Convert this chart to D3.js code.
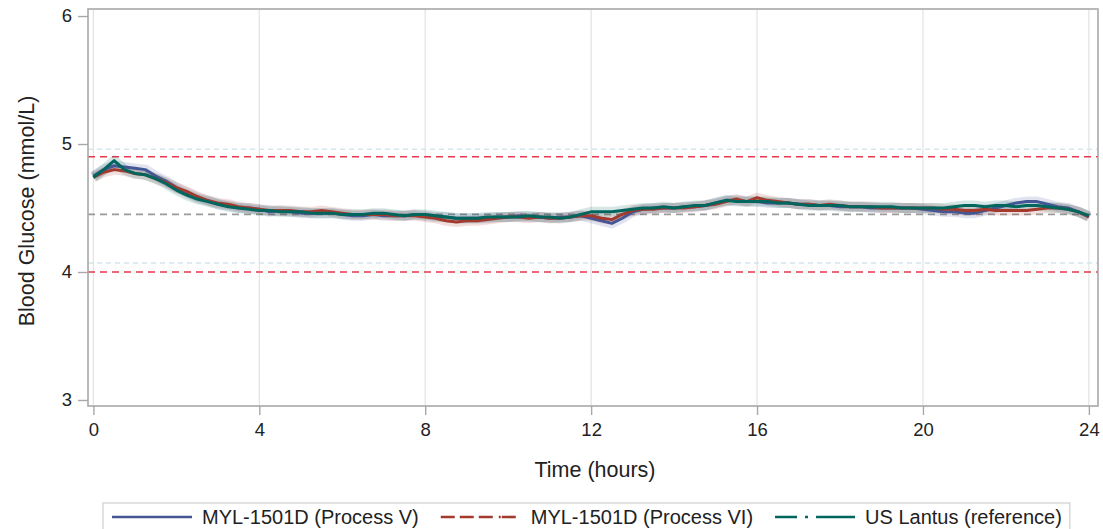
<!DOCTYPE html>
<html>
<head>
<meta charset="utf-8">
<script src="https://cdn.jsdelivr.net/npm/d3@7"></script>
<style>
  body { margin: 0; background: #fff; }
  svg { font-family: "Liberation Sans", Arial, sans-serif; }
</style>
</head>
<body>
<svg width="1103" height="529"></svg>
<script>
// sample times, every 15 minutes from 0 to 24 h
const TIMES = d3.range(0, 24.001, 0.25);

// mean glucose per arm (mmol/L)
const PROCESS_V = [
  4.75, 4.80, 4.83, 4.82, 4.81, 4.80, 4.75, 4.71,
  4.66, 4.62, 4.58, 4.56, 4.53, 4.52, 4.50, 4.50,
  4.49, 4.47, 4.48, 4.47, 4.46, 4.46, 4.46, 4.46,
  4.45, 4.44, 4.44, 4.45, 4.44, 4.44, 4.44, 4.45,
  4.44, 4.43, 4.43, 4.42, 4.42, 4.42, 4.42, 4.43,
  4.43, 4.44, 4.43, 4.43, 4.42, 4.43, 4.43, 4.44,
  4.42, 4.40, 4.38, 4.42, 4.47, 4.49, 4.50, 4.50,
  4.50, 4.51, 4.51, 4.52, 4.54, 4.56, 4.56, 4.55,
  4.55, 4.54, 4.54, 4.54, 4.53, 4.53, 4.52, 4.52,
  4.51, 4.51, 4.51, 4.50, 4.50, 4.50, 4.50, 4.50,
  4.49, 4.48, 4.47, 4.47, 4.46, 4.46, 4.48, 4.50,
  4.52, 4.54, 4.55, 4.55, 4.53, 4.51, 4.50, 4.47,
  4.43
];
const PROCESS_VI = [
  4.74, 4.78, 4.80, 4.79, 4.77, 4.76, 4.73, 4.70,
  4.66, 4.63, 4.59, 4.56, 4.54, 4.53, 4.51, 4.50,
  4.49, 4.48, 4.48, 4.48, 4.47, 4.47, 4.48, 4.47,
  4.46, 4.45, 4.45, 4.45, 4.45, 4.44, 4.44, 4.44,
  4.43, 4.42, 4.40, 4.39, 4.40, 4.40, 4.41, 4.42,
  4.43, 4.43, 4.42, 4.43, 4.42, 4.42, 4.43, 4.44,
  4.44, 4.42, 4.41, 4.45, 4.48, 4.49, 4.49, 4.50,
  4.50, 4.50, 4.51, 4.52, 4.53, 4.55, 4.57, 4.55,
  4.58, 4.56, 4.55, 4.54, 4.53, 4.53, 4.52, 4.53,
  4.52, 4.51, 4.51, 4.51, 4.50, 4.50, 4.50, 4.50,
  4.50, 4.50, 4.49, 4.49, 4.48, 4.48, 4.49, 4.48,
  4.48, 4.48, 4.48, 4.49, 4.50, 4.50, 4.49, 4.47,
  4.43
];
const US_LANTUS = [
  4.74, 4.80, 4.87, 4.80, 4.77, 4.76, 4.73, 4.69,
  4.64, 4.60, 4.57, 4.55, 4.53, 4.51, 4.50, 4.49,
  4.48, 4.48, 4.47, 4.47, 4.47, 4.46, 4.46, 4.46,
  4.45, 4.45, 4.45, 4.46, 4.46, 4.45, 4.44, 4.45,
  4.45, 4.44, 4.43, 4.42, 4.42, 4.42, 4.43, 4.43,
  4.43, 4.43, 4.44, 4.43, 4.43, 4.42, 4.43, 4.45,
  4.47, 4.47, 4.47, 4.48, 4.49, 4.50, 4.50, 4.51,
  4.50, 4.51, 4.52, 4.52, 4.54, 4.56, 4.55, 4.55,
  4.55, 4.55, 4.54, 4.54, 4.53, 4.52, 4.52, 4.52,
  4.52, 4.51, 4.51, 4.51, 4.51, 4.51, 4.50, 4.50,
  4.50, 4.50, 4.50, 4.51, 4.52, 4.52, 4.51, 4.52,
  4.52, 4.51, 4.52, 4.52, 4.51, 4.50, 4.49, 4.47,
  4.44
];

const SERIES_NAMES = ['MYL-1501D (Process V)', 'MYL-1501D (Process VI)', 'US Lantus (reference)'];
const SERIES_COLORS = ['#445694', '#a23a2e', '#01665e'];
const SERIES_DASH = [null, '14,5,14,5,14,6,2,1', '22,8,3,8,22,0'];

const X_TICKS = [0, 4, 8, 12, 16, 20, 24];
const Y_TICKS = [3, 4, 5, 6];
const CLAMP_LINES = [4.0, 4.9];     // red dashed limits
const TARGET_LINE = 4.45;           // grey dashed target
const FAINT_LINES = [4.07, 4.96];   // faint dotted bounds

const svg = d3.select('svg');
const frame = { left: 88, right: 1098, top: 9, bottom: 406 };

const x = d3.scaleLinear()
    .domain([-0.13, 24.22])
    .range([frame.left, frame.right]);

const y = d3.scaleLinear()
    .domain([2.953, 6.055])
    .range([frame.bottom, frame.top]);

// vertical grid
svg.append('g')
  .selectAll('line')
  .data(X_TICKS)
  .enter().append('line')
    .attr('x1', d => x(d)).attr('x2', d => x(d))
    .attr('y1', frame.top).attr('y2', frame.bottom)
    .attr('stroke', '#e3e3e3')
    .attr('stroke-width', 1.2);

// reference lines
svg.append('g')
  .selectAll('line')
  .data(FAINT_LINES)
  .enter().append('line')
    .attr('x1', frame.left).attr('x2', frame.right)
    .attr('y1', d => y(d)).attr('y2', d => y(d))
    .attr('stroke', '#d3e6ee')
    .attr('stroke-width', 1.5)
    .attr('stroke-dasharray', '5,4');

svg.append('g')
  .selectAll('line')
  .data(CLAMP_LINES)
  .enter().append('line')
    .attr('x1', frame.left).attr('x2', frame.right)
    .attr('y1', d => y(d)).attr('y2', d => y(d))
    .attr('stroke', '#e8374a')
    .attr('stroke-width', 1.6)
    .attr('stroke-dasharray', '7,5');

svg.append('line')
    .attr('x1', frame.left).attr('x2', frame.right)
    .attr('y1', y(TARGET_LINE)).attr('y2', y(TARGET_LINE))
    .attr('stroke', '#999')
    .attr('stroke-width', 1.6)
    .attr('stroke-dasharray', '7,5');

// traces
const series = [PROCESS_V, PROCESS_VI, US_LANTUS].map((vals, i) => ({
  name: SERIES_NAMES[i],
  color: SERIES_COLORS[i],
  dash: SERIES_DASH[i],
  points: vals.map((v, j) => [TIMES[j], v])
}));

const line = d3.line()
    .x(d => x(d[0]))
    .y(d => y(d[1]));

const traces = svg.append('g');

// pale confidence band, drawn as a wide translucent stroke
traces.selectAll('path.band')
  .data(series)
  .enter().append('path')
    .attr('class', 'band')
    .attr('d', d => line(d.points))
    .attr('fill', 'none')
    .attr('stroke', d => d.color)
    .attr('stroke-opacity', 0.16)
    .attr('stroke-width', 10)
    .attr('stroke-linejoin', 'round');

traces.selectAll('path.trace')
  .data(series)
  .enter().append('path')
    .attr('class', 'trace')
    .attr('d', d => line(d.points))
    .attr('fill', 'none')
    .attr('stroke', d => d.color)
    .attr('stroke-width', 3)
    .attr('stroke-linejoin', 'round');

// frame
svg.append('rect')
    .attr('x', frame.left).attr('y', frame.top)
    .attr('width', frame.right - frame.left)
    .attr('height', frame.bottom - frame.top)
    .attr('fill', 'none')
    .attr('stroke', '#a8a8a8')
    .attr('stroke-width', 1.6);

// x axis
const xAxis = svg.append('g')
    .attr('transform', `translate(0,${frame.bottom})`)
    .call(d3.axisBottom(x).tickValues(X_TICKS).tickFormat(d3.format('d')).tickSize(9).tickPadding(8));
xAxis.select('.domain').remove();
xAxis.selectAll('line').attr('stroke', '#a8a8a8').attr('stroke-width', 1.4);
xAxis.selectAll('text')
    .attr('font-family', '"Liberation Sans", Arial, sans-serif')
    .attr('font-size', 18.5)
    .attr('fill', '#222');

// y axis
const yAxis = svg.append('g')
    .attr('transform', `translate(${frame.left},0)`)
    .call(d3.axisLeft(y).tickValues(Y_TICKS).tickFormat(d3.format('d')).tickSize(10).tickPadding(6));
yAxis.select('.domain').remove();
yAxis.selectAll('line').attr('stroke', '#a8a8a8').attr('stroke-width', 1.4);
yAxis.selectAll('text')
    .attr('font-family', '"Liberation Sans", Arial, sans-serif')
    .attr('font-size', 18.5)
    .attr('fill', '#222');

// axis titles
svg.append('text')
    .attr('x', (frame.left + frame.right) / 2 + 2)
    .attr('y', 477)
    .attr('text-anchor', 'middle')
    .attr('font-size', 21.5)
    .attr('fill', '#222')
    .text('Time (hours)');

svg.append('text')
    .attr('transform', `translate(34,211)rotate(-90)`)
    .attr('text-anchor', 'middle')
    .attr('font-size', 21.5)
    .attr('fill', '#222')
    .text('Blood Glucose (mmol/L)');

// legend
const legend = svg.append('g');
const legendBox = legend.append('rect')
    .attr('x', 103).attr('y', 503)
    .attr('height', 34)
    .attr('fill', '#fff')
    .attr('stroke', '#cfcfcf')
    .attr('stroke-width', 1.2);

let cx = 112;
series.forEach(s => {
  legend.append('line')
      .attr('x1', cx).attr('x2', cx + 80)
      .attr('y1', 517).attr('y2', 517)
      .attr('stroke', s.color)
      .attr('stroke-width', 2.6)
      .attr('stroke-dasharray', s.dash);
  const t = legend.append('text')
      .attr('x', cx + 90)
      .attr('y', 524)
      .attr('font-size', 20)
      .attr('fill', '#222')
      .text(s.name);
  cx += 90 + t.node().getComputedTextLength() + 22;
});
legendBox.attr('width', cx - 22 + 8 - 103);
</script>
</body>
</html>
